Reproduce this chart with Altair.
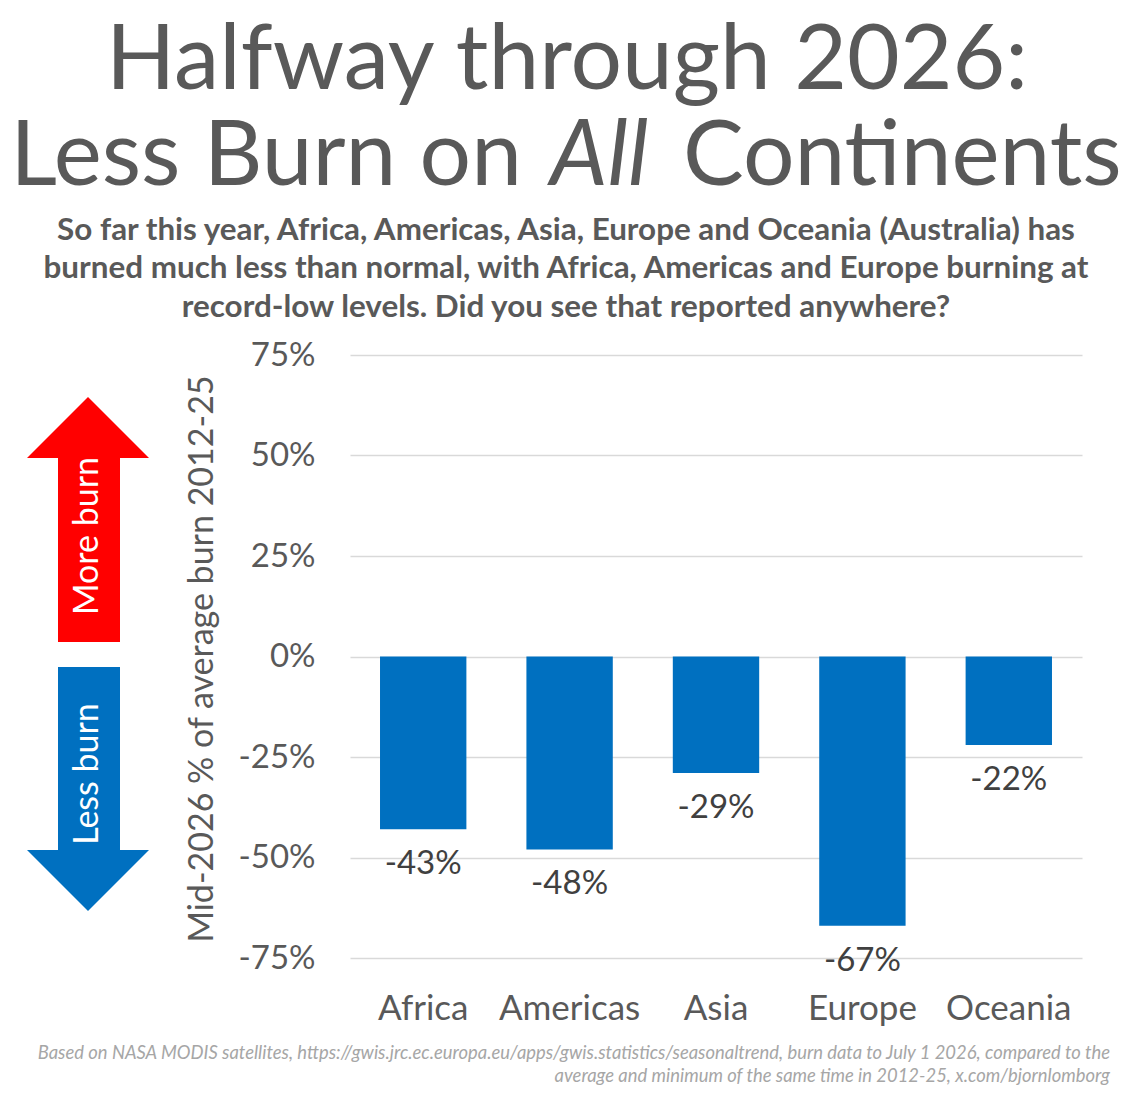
import altair as alt
import pandas as pd

# ---- data ----
continents = ["Africa", "Americas", "Asia", "Europe", "Oceania"]
values = [-43, -48, -29, -67, -22]
y_ticks = [-75, -50, -25, 0, 25, 50, 75]

title_line1 = "Halfway through 2026:"
title_line2_a = "Less Burn on"
title_line2_b = "All"
title_line2_c = "Continents"
subtitle_lines = [
    "So far this year, Africa, Americas, Asia, Europe and Oceania (Australia) has",
    "burned much less than normal, with Africa, Americas and Europe burning at",
    "record-low levels. Did you see that reported anywhere?",
]
y_title = "Mid-2026 % of average burn 2012-25"
footer_lines = [
    "Based on NASA MODIS satellites, https://gwis.jrc.ec.europa.eu/apps/gwis.statistics/seasonaltrend, burn data to July 1 2026, compared to the",
    "average and minimum of the same time in 2012-25, x.com/bjornlomborg",
]
arrow_up_text = "More burn"
arrow_down_text = "Less burn"

df = pd.DataFrame({
    "continent": continents,
    "value": values,
    "label": [f"{v}%" for v in values],
})

FONT = "Lato"
GRAY = "#595959"
BLUE = "#0070C0"
RED = "#FF0000"

x_enc = alt.X(
    "continent:N", sort=continents, title=None,
    scale=alt.Scale(paddingInner=0.41, paddingOuter=0.205),
    axis=alt.Axis(labelAngle=0, labelFontSize=35, labelColor=GRAY, labelFont=FONT,
                  labelPadding=33, ticks=False, domain=False, grid=False),
)
y_enc = alt.Y(
    "value:Q", title=None,
    scale=alt.Scale(domain=[-75, 75], nice=False, zero=False),
    axis=alt.Axis(values=y_ticks, labelExpr="datum.value + '%'", labelFontSize=33,
                  labelColor=GRAY, labelFont=FONT, labelPadding=35, ticks=False,
                  domain=False, grid=True, gridColor="#D9D9D9", gridWidth=1.5),
)

bars = alt.Chart(df).mark_bar(color=BLUE).encode(x=x_enc, y=y_enc)

bar_labels = alt.Chart(df).mark_text(
    fontSize=33, font=FONT, color="#404040", baseline="alphabetic", dy=45
).encode(x=alt.X("continent:N", sort=continents), y="value:Q", text="label:N")

one = alt.Data(values=[{"k": 0}])


def txt(s, x, y, size, color=GRAY, weight="normal", style="normal", align="center",
        angle=0, baseline="alphabetic"):
    return alt.Chart(one).mark_text(
        text=s, fontSize=size, font=FONT, color=color, fontWeight=weight,
        fontStyle=style, align=align, angle=angle, baseline=baseline,
    ).encode(x=alt.value(x), y=alt.value(y))


def rect(x1, x2, y1, y2, color):
    return alt.Chart(one).mark_rect(color=color).encode(
        x=alt.value(x1), x2=alt.value(x2), y=alt.value(y1), y2=alt.value(y2))


def head(path, x, y, color):
    return alt.Chart(one).mark_point(
        shape=path, size=14884, filled=True, color=color, opacity=1, strokeWidth=0
    ).encode(x=alt.value(x), y=alt.value(y))


layers = [bars, bar_labels]

# titles
layers.append(txt(title_line1, 217, -266, 91))
layers.append(txt(title_line2_a, 172, -170, 91, align="right"))
layers.append(txt(title_line2_b, 200, -170, 91, align="left", style="italic"))
layers.append(txt(title_line2_c, 333, -170, 91, align="left"))
for s, yy in zip(subtitle_lines, [-115, -77, -38]):
    layers.append(txt(s, 216, yy, 31.4, weight="bold"))

# y title
layers.append(txt(y_title, -147, 304, 34, angle=270, baseline="middle"))

# arrows
layers.append(rect(-292, -230, 102, 287, RED))
layers.append(head("M0,-0.5L1,0.5L-1,0.5Z", -262, 72.5, RED))
layers.append(rect(-292, -230, 312, 496, BLUE))
layers.append(head("M0,0.5L1,-0.5L-1,-0.5Z", -262, 525.5, BLUE))
layers.append(txt(arrow_up_text, -262, 181, 34, color="white", angle=270, baseline="middle"))
layers.append(txt(arrow_down_text, -262, 419, 34, color="white", angle=270, baseline="middle"))

# footer
for s, yy in zip(footer_lines, [704, 727]):
    layers.append(txt(s, 760, yy, 18.4, color="#A6A6A6", style="italic", align="right"))

chart = alt.layer(*layers).properties(
    width=732, height=603,
    padding={"left": 350, "top": 355, "right": 49, "bottom": 140},
    autosize=alt.AutoSizeParams(type="none"),
    background="white",
).configure_view(stroke=None)

chart.save("out.html", embed_options={"renderer": "svg", "actions": False})
